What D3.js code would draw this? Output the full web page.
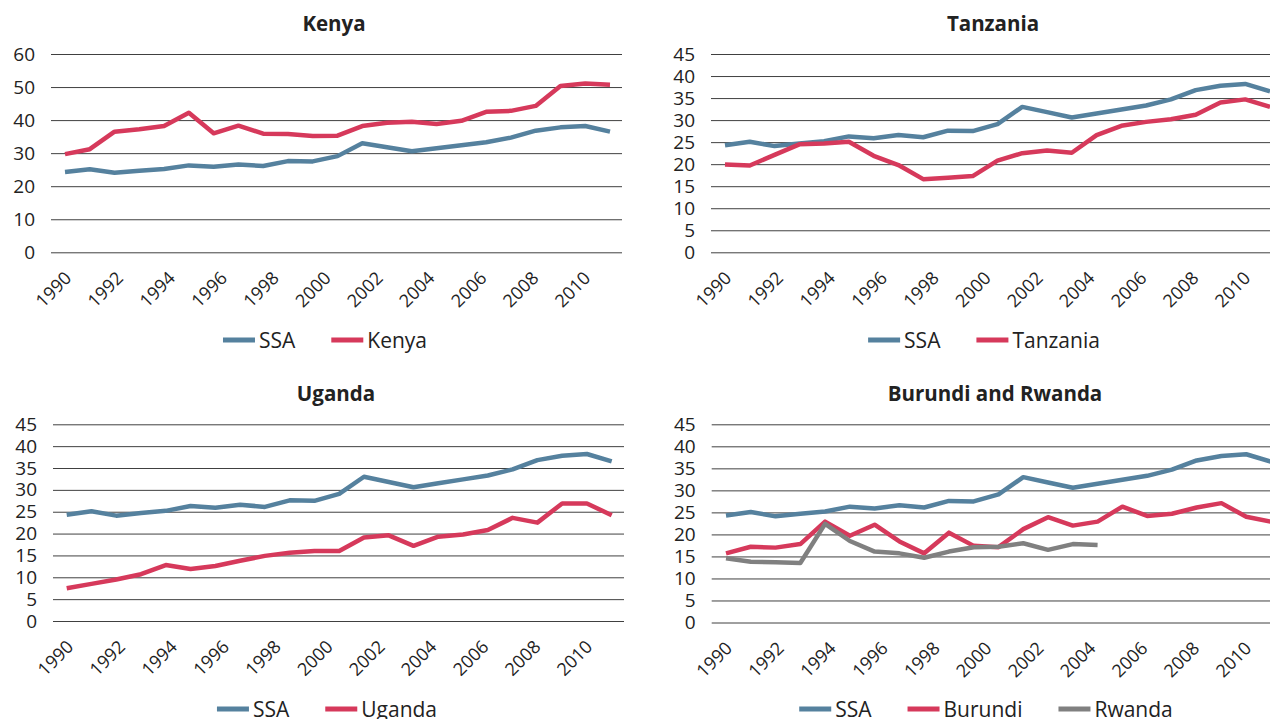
<!DOCTYPE html>
<html><head><meta charset="utf-8">
<script src="https://cdn.jsdelivr.net/npm/d3@7"></script>
<style>
html,body{margin:0;padding:0;background:#fff;}
svg{display:block;font-family:"Open Sans",sans-serif;}
</style></head>
<body><svg id="c" width="1270" height="719"></svg>
<script>
const years = d3.range(1990, 2013);
const labelYears = d3.range(1990, 2012);
const tickYears = [1990,1992,1994,1996,1998,2000,2002,2004,2006,2008,2010];
const ssa = [24.3,25.1,24.1,24.7,25.2,26.3,25.9,26.6,26.1,27.6,27.5,29.1,33.0,31.8,30.6,31.5,32.4,33.3,34.7,36.8,37.8,38.2,36.5];
const kenya = [29.7,31.2,36.5,37.2,38.2,42.2,36.0,38.3,35.9,35.8,35.2,35.3,38.2,39.2,39.5,38.8,39.8,42.5,42.8,44.3,50.3,51.1,50.7];
const tanzania = [19.9,19.7,22.1,24.5,24.7,25.1,21.9,19.8,16.6,16.9,17.3,20.8,22.5,23.1,22.6,26.6,28.7,29.6,30.2,31.2,34.0,34.7,33.0];
const uganda = [7.5,8.5,9.5,10.7,12.8,11.9,12.6,13.8,14.9,15.6,16.0,16.0,19.1,19.6,17.2,19.3,19.8,20.8,23.6,22.5,26.9,26.9,24.2];
const burundi = [15.7,17.2,17.0,17.8,22.9,19.7,22.2,18.4,15.7,20.4,17.4,17.1,21.2,23.9,22.0,22.9,26.3,24.2,24.7,26.1,27.1,24.0,22.9];
const rwanda = [14.6,13.8,13.7,13.5,22.4,18.5,16.1,15.7,14.7,16.1,17.1,17.2,18.0,16.5,17.8,17.6,null,null,null,null,null,null,null];
const yTicks60 = [0,10,20,30,40,50,60];
const yTicks45 = [0,5,10,15,20,25,30,35,40,45];

const colors = {SSA:"#55819e", red:"#d6395b", grey:"#808080"};

const panels = [
  {title:"Kenya", gx0:51, gx1:622, px0:65, px1:610, yTop:54, yBot:252.3, max:60, ticks:yTicks60, legY:340, legCx:325, titleX:334,
   series:[{name:"SSA", vals:ssa, color:colors.SSA},{name:"Kenya", vals:kenya, color:colors.red}]},
  {title:"Tanzania", gx0:711, gx1:1282, px0:725, px1:1270, yTop:54, yBot:252.3, max:45, ticks:yTicks45, legY:340, legCx:984, titleX:993,
   series:[{name:"SSA", vals:ssa, color:colors.SSA},{name:"Tanzania", vals:tanzania, color:colors.red}]},
  {title:"Uganda", gx0:53, gx1:624, px0:66.7, px1:611.7, yTop:424.3, yBot:621, max:45, ticks:yTicks45, legY:709, legCx:327, titleX:336,
   series:[{name:"SSA", vals:ssa, color:colors.SSA},{name:"Uganda", vals:uganda, color:colors.red}]},
  {title:"Burundi and Rwanda", gx0:711.7, gx1:1283, px0:726, px1:1271, yTop:424.3, yBot:622.5, max:45, ticks:yTicks45, legY:709, legCx:986, titleX:995,
   series:[{name:"SSA", vals:ssa, color:colors.SSA},{name:"Burundi", vals:burundi, color:colors.red},{name:"Rwanda", vals:rwanda, color:colors.grey}]}
];

const svg = d3.select("#c");

panels.forEach(p => {
  const g = svg.append("g");
  const x = d3.scalePoint().domain(years).range([p.px0, p.px1]);
  const xl = d3.scalePoint().domain(labelYears).range([p.gx0, p.gx1]).padding(0.5);
  const y = d3.scaleLinear().domain([0, p.max]).range([p.yBot, p.yTop]);

  const yAxis = d3.axisLeft(y).tickValues(p.ticks).tickSize(-(p.gx1 - p.gx0)).tickPadding(16).tickFormat(d3.format("d"));
  const ya = g.append("g").attr("transform", `translate(${p.gx0},0)`).call(yAxis);
  ya.select(".domain").remove();
  ya.selectAll(".tick line").attr("stroke", "#404040").attr("stroke-width", 1);
  ya.selectAll(".tick text").attr("font-size", 19).attr("fill", "#222").attr("font-family", "Open Sans");

  const xAxis = d3.axisBottom(xl).tickValues(tickYears).tickSize(0).tickPadding(0);
  const xa = g.append("g").attr("transform", `translate(0,${p.yBot})`).call(xAxis);
  xa.select(".domain").remove();
  xa.selectAll(".tick text")
    .attr("font-size", 18).attr("fill", "#222").attr("font-family", "Open Sans")
    .attr("text-anchor", "end").attr("dy", null).attr("y", 0)
    .attr("transform", "translate(8,27) rotate(-45)");

  const line = d3.line().defined(d => d.v != null).x(d => x(d.yr)).y(d => y(d.v));
  p.series.forEach(s => {
    const pts = years.map((yr, i) => ({yr, v: s.vals[i]}));
    g.append("path").datum(pts).attr("d", line).attr("fill", "none")
      .attr("stroke", s.color).attr("stroke-width", 4.5).attr("stroke-linejoin", "round");
  });

  g.append("text").attr("x", p.titleX)
    .attr("y", p.yTop - 23).attr("text-anchor", "middle")
    .attr("font-size", 20.5).attr("font-weight", "bold").attr("fill", "#222").text(p.title);

  const leg = g.append("g");
  let cx = 0;
  p.series.forEach((s, i) => {
    const it = leg.append("g").attr("transform", `translate(${cx},0)`);
    it.append("line").attr("x1", 0).attr("x2", 32).attr("y1", 0).attr("y2", 0)
      .attr("stroke", s.color).attr("stroke-width", 5);
    const t = it.append("text").attr("x", 36).attr("y", 7.5).attr("font-size", 21).attr("fill", "#222").text(s.name);
    const w = t.node().getComputedTextLength();
    cx += 36 + w + 36;
  });
  const total = cx - 36;
  leg.attr("transform", `translate(${p.legCx - total / 2},${p.legY})`);
});
</script>
</body></html>
